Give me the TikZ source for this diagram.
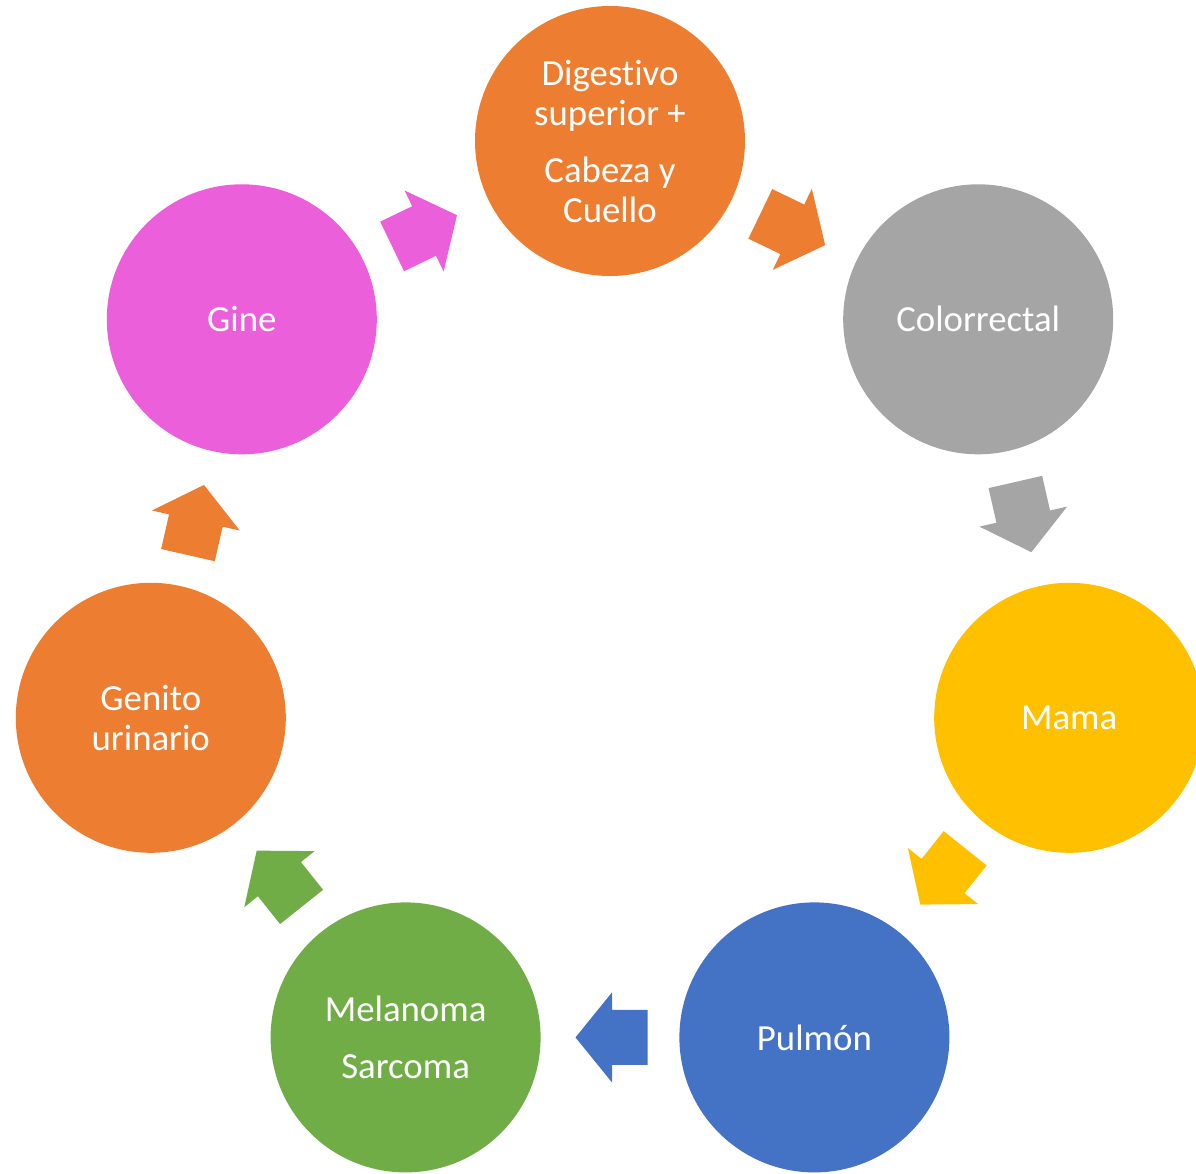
\documentclass[tikz,border=0pt]{standalone}
\usepackage{fontspec}
\setmainfont{Carlito}[Ligatures={NoCommon}]
\usetikzlibrary{calc}
\definecolor{corange}{HTML}{ED7D31}
\definecolor{cgray}{HTML}{A5A5A5}
\definecolor{cyellow}{HTML}{FFC000}
\definecolor{cblue}{HTML}{4472C4}
\definecolor{cgreen}{HTML}{70AD47}
\definecolor{cpink}{HTML}{EB5FDB}
\newcommand\cyclearrow[4]{%
  \begin{scope}[shift={($(#1.center)!0.5!(#2.center)$)}, rotate=#4]
    \fill[#3] (-18.75pt,-13.75pt) -- (-1pt,-13.75pt) -- (-1pt,-22.5pt) -- (17.25pt,0pt)
      -- (-1pt,22.5pt) -- (-1pt,13.75pt) -- (-18.75pt,13.75pt) -- cycle;
  \end{scope}}
\begin{document}
\begin{tikzpicture}[x=0.5pt,y=-0.5pt,
  bubble/.style={circle, minimum size=135pt, inner sep=0pt, text=white,
    font=\fontsize{18.4}{20}\selectfont, align=center}]
\useasboundingbox (0,0) rectangle (1196,1174);
\node[bubble, fill=corange] (dig) at (610,141) {Digestivo\\superior +\\[8.5pt]Cabeza y\\Cuello};
\node[bubble, fill=cgray] (col) at (978.2,319.3) {Colorrectal};
\node[bubble, fill=cyellow] (mama) at (1069.2,717.8) {Mama};
\node[bubble, fill=cblue] (pul) at (814.4,1037.4) {Pulmón};
\node[bubble, fill=cgreen] (mel) at (405.6,1037.4) {Melanoma\\[8.5pt]Sarcoma};
\node[bubble, fill=corange] (gen) at (150.8,717.8) {Genito\\urinario};
\node[bubble, fill=cpink] (gine) at (241.8,319.3) {Gine};
\cyclearrow{dig}{col}{corange}{-25.714}
\cyclearrow{col}{mama}{cgray}{-77.143}
\cyclearrow{mama}{pul}{cyellow}{-128.571}
\cyclearrow{pul}{mel}{cblue}{180}
\cyclearrow{mel}{gen}{cgreen}{128.571}
\cyclearrow{gen}{gine}{corange}{77.143}
\cyclearrow{gine}{dig}{cpink}{25.714}
\end{tikzpicture}
\end{document}
